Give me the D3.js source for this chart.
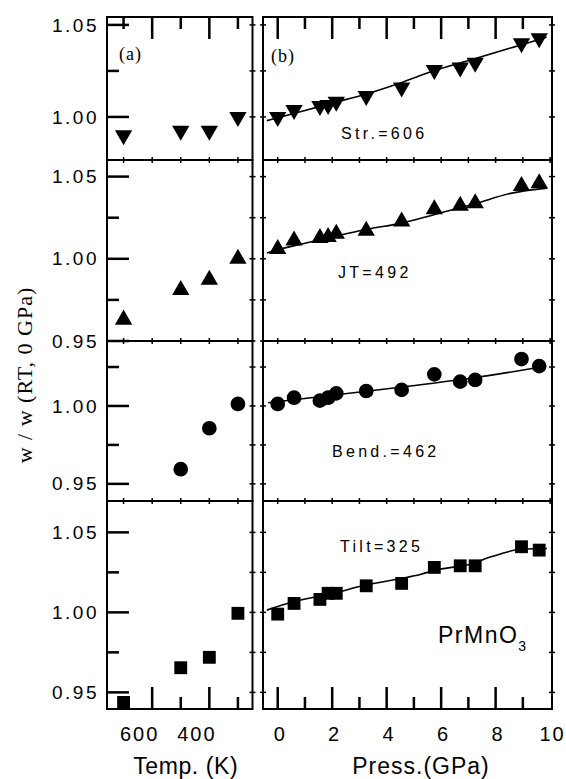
<!DOCTYPE html>
<html>
<head>
<meta charset="utf-8">
<script src="https://cdn.jsdelivr.net/npm/d3@7"></script>
<style>
    body { margin: 0; background: #fff; color: #000; }
    svg text { fill: #000; }
    .sans { font-family: "Liberation Sans", Arial, sans-serif; }
    .serif { font-family: "Liberation Serif", "Times New Roman", serif; }
</style>
</head>
<body>
<div id="chart"></div>
<script>
// temperature data (left column)
var temps = [700, 500, 400, 300];
var bendTemps = [500, 400, 300];
var strT = [0.990, 0.9925, 0.9925, 1.000];
var jtT = [0.963, 0.981, 0.9872, 1.000];
var bendT = [0.9594, 0.9857, 1.0013];
var tiltT = [0.9437, 0.9654, 0.9719, 0.9994];

// pressure data (right column)
var pressures = [0, 0.6, 1.55, 1.85, 2.15, 3.25, 4.55, 5.75, 6.7, 7.25, 8.95, 9.6];
var strP = [1.000, 1.0038, 1.006, 1.0065, 1.0083, 1.0114, 1.016, 1.0255, 1.0268, 1.0295, 1.040, 1.0427];
var jtP = [1.0059, 1.0111, 1.0126, 1.0132, 1.0152, 1.017, 1.0227, 1.0302, 1.0322, 1.0338, 1.0443, 1.046];
var bendP = [1.0013, 1.0053, 1.0034, 1.0053, 1.0081, 1.0096, 1.0103, 1.0203, 1.0156, 1.0167, 1.0301, 1.0256];
var tiltP = [0.9989, 1.0056, 1.0081, 1.0119, 1.0119, 1.0166, 1.0181, 1.0281, 1.0291, 1.0291, 1.041, 1.0389];

// fitted curves
var strFitP = [-0.4, 1, 2, 3.25, 4.5, 5.75, 7.2, 8.9, 9.87];
var strFit = [0.998, 1.0035, 1.0075, 1.0125, 1.0185, 1.0252, 1.0315, 1.039, 1.0433];
var jtFitP = [-0.4, 0, 1.0, 2.2, 3.27, 4.55, 5.77, 7.24, 8.55, 9.9];
var jtFit = [1.0035, 1.0055, 1.0095, 1.014, 1.018, 1.0217, 1.027, 1.0335, 1.0398, 1.043];
var bendFitP = [-0.35, 4.5, 7.2, 9.75];
var bendFit = [1.0021, 1.012, 1.0181, 1.0252];
var tiltFitP = [-0.4, 0.57, 2.04, 3.24, 3.88, 4.52, 5.23, 5.78, 6.7, 7.21, 7.55, 8.16, 8.9, 9.63, 9.88];
var tiltFit = [1.0014, 1.0066, 1.0119, 1.0171, 1.0191, 1.0212, 1.0237, 1.0264, 1.0289, 1.0306, 1.0331, 1.0364, 1.0394, 1.0398, 1.0399];

// axis ticks
var tempMajor = [600, 400];
var tempMinor = [700, 500, 300];
var pressMajor = [0, 2, 4, 6, 8, 10];
var pressMinor = [1, 3, 5, 7, 9];
var yMajor = [0.95, 1.00, 1.05];
var yMinor = [0.975, 1.025];

var labels = ["Str.=606", "JT=492", "Bend.=462", "Tilt=325"];

var W = 566, H = 779;
var colL = [107, 252.5], colR = [263, 552];
var rows = [17, 160, 341, 501, 709];

var panels = [
    {dom: [0.9766, 1.0543], sym: "down", tx: temps, ty: strT, py: strP, fp: strFitP, fy: strFit, label: labels[0], lx: 341, ly: 139},
    {dom: [0.95, 1.0601], sym: "up", tx: temps, ty: jtT, py: jtP, fp: jtFitP, fy: jtFit, label: labels[1], lx: 338, ly: 278},
    {dom: [0.939, 1.0417], sym: "circle", tx: bendTemps, ty: bendT, py: bendP, fp: bendFitP, fy: bendFit, label: labels[2], lx: 332, ly: 457},
    {dom: [0.9396, 1.0696], sym: "square", tx: temps, ty: tiltT, py: tiltP, fp: tiltFitP, fy: tiltFit, label: labels[3], lx: 340, ly: 552}
];

var xT = d3.scaleLinear().domain([758, 249]).range(colL);
var xP = d3.scaleLinear().domain([-0.54, 10.07]).range(colR);

var svg = d3.select("#chart").append("svg")
    .attr("width", W)
    .attr("height", H);

function marker(type) {
    if (type == "circle") return d3.symbol().type(d3.symbolCircle).size(170)();
    if (type == "square") return d3.symbol().type(d3.symbolSquare).size(165)();
    return d3.symbol().type(d3.symbolTriangle).size(130)();
}

// vertical tick marks at x = scale(v), between y0 and y1
function ticksX(scale, vals, y0, y1, w) {
    svg.selectAll(null)
        .data(vals)
        .enter().append("rect")
        .attr("x", function(v) { return scale(v) - w / 2; })
        .attr("y", y0)
        .attr("width", w)
        .attr("height", y1 - y0)
        .attr("fill", "#000");
}

// horizontal tick marks at y = scale(v), between x0 and x1
function ticksY(scale, vals, x0, x1, w) {
    svg.selectAll(null)
        .data(vals)
        .enter().append("rect")
        .attr("x", x0)
        .attr("y", function(v) { return scale(v) - w / 2; })
        .attr("width", x1 - x0)
        .attr("height", w)
        .attr("fill", "#000");
}

panels.forEach(function(p, i) {
    var top = rows[i], bot = rows[i + 1];
    var y = d3.scaleLinear().domain(p.dom).range([bot, top]);
    var inMaj = yMajor.filter(function(v) { return v >= p.dom[0] - 1e-6 && v <= p.dom[1]; });
    var inMin = yMinor.filter(function(v) { return v >= p.dom[0] && v <= p.dom[1]; });

    // frames
    [colL, colR].forEach(function(c) {
        svg.append("rect")
            .attr("x", c[0]).attr("y", top)
            .attr("width", c[1] - c[0]).attr("height", bot - top)
            .attr("fill", "none").attr("stroke", "#000").attr("stroke-width", 2);
    });

    // left y axis labels
    var gy = svg.append("g")
        .attr("class", "sans")
        .attr("transform", "translate(" + colL[0] + ",0)")
        .call(d3.axisLeft(y).tickValues(inMaj).tickSize(0).tickPadding(8).tickFormat(d3.format(".2f")));
    gy.select(".domain").remove();
    gy.selectAll("line").remove();
    gy.selectAll("text").style("font-size", "19px").style("letter-spacing", "2.5px");

    // long inward ticks on the left, tiny ones elsewhere
    ticksY(y, inMaj, colL[0], colL[0] + 22, 2.5);
    ticksY(y, inMin, colL[0], colL[0] + 12, 2.5);
    var all = inMaj.concat(inMin);
    ticksY(y, all, colL[1] - 3, colL[1] + 3, 1.5);
    ticksY(y, all, colR[0] - 3, colR[0] + 3, 1.5);
    ticksY(y, all, colR[1] - 3, colR[1] + 3, 1.5);

    // fit line
    var fit = p.fp.map(function(v, k) { return [v, p.fy[k]]; });
    svg.append("path")
        .datum(fit)
        .attr("fill", "none")
        .attr("stroke", "#000")
        .attr("stroke-width", 1.6)
        .attr("d", d3.line()
            .x(function(d) { return xP(d[0]); })
            .y(function(d) { return y(d[1]); })
            .curve(d3.curveMonotoneX));

    var rot = p.sym == "down" ? " rotate(180)" : "";

    svg.selectAll(".mt" + i)
        .data(p.tx.map(function(t, k) { return [t, p.ty[k]]; }))
        .enter().append("path")
        .attr("class", "mt" + i)
        .attr("d", marker(p.sym))
        .attr("transform", function(d) { return "translate(" + xT(d[0]) + "," + y(d[1]) + ")" + rot; })
        .attr("fill", "#000");

    svg.selectAll(".mp" + i)
        .data(pressures.map(function(v, k) { return [v, p.py[k]]; }))
        .enter().append("path")
        .attr("class", "mp" + i)
        .attr("d", marker(p.sym))
        .attr("transform", function(d) { return "translate(" + xP(d[0]) + "," + y(d[1]) + ")" + rot; })
        .attr("fill", "#000");

    svg.append("text")
        .attr("class", "sans")
        .attr("x", p.lx)
        .attr("y", p.ly)
        .style("font-size", "16px")
        .style("letter-spacing", "3.3px")
        .text(p.label);

    // small ticks across the boundary between panels
    if (i > 0) {
        ticksX(xT, tempMajor.concat(tempMinor), top - 3, top + 3, 1.5);
        ticksX(xP, pressMajor.concat(pressMinor), top - 3, top + 3, 1.5);
    }
});

// top ticks
ticksX(xT, tempMajor, rows[0], rows[0] + 22, 2.5);
ticksX(xT, tempMinor, rows[0], rows[0] + 12, 2.5);
ticksX(xP, pressMajor.slice(0, 5), rows[0], rows[0] + 22, 2.5);
ticksX(xP, pressMinor, rows[0], rows[0] + 12, 2.5);

// bottom ticks and labels
var yb = rows[4];
ticksX(xT, tempMajor, yb - 22, yb, 2.5);
ticksX(xT, tempMinor, yb - 12, yb, 2.5);
ticksX(xP, pressMajor.slice(0, 5), yb - 22, yb, 2.5);
ticksX(xP, pressMinor, yb - 12, yb, 2.5);

function bottomLabels(scale, major, dx) {
    var g = svg.append("g")
        .attr("class", "sans")
        .attr("transform", "translate(0," + yb + ")")
        .call(d3.axisBottom(scale).tickValues(major).tickSize(0).tickPadding(18));
    g.select(".domain").remove();
    g.selectAll("line").remove();
    g.selectAll("text").attr("dx", dx).style("font-size", "20px").style("letter-spacing", "2px");
}
bottomLabels(xT, tempMajor, -13);
bottomLabels(xP, pressMajor, 2);

// titles
svg.append("text")
    .attr("class", "sans")
    .attr("x", (colL[0] + colL[1]) / 2 + 6)
    .attr("y", 774)
    .attr("text-anchor", "middle")
    .style("font-size", "23px")
    .style("letter-spacing", "0.6px")
    .text("Temp. (K)");

svg.append("text")
    .attr("class", "sans")
    .attr("x", 421)
    .attr("y", 774)
    .attr("text-anchor", "middle")
    .style("font-size", "23px")
    .style("letter-spacing", "1px")
    .text("Press.(GPa)");

svg.append("text")
    .attr("class", "serif")
    .attr("text-anchor", "middle")
    .attr("transform", "translate(32,375)rotate(-90)")
    .style("font-size", "22px")
    .style("letter-spacing", "1px")
    .text("w / w (RT, 0 GPa)");

svg.append("text")
    .attr("class", "serif")
    .attr("x", 119).attr("y", 60)
    .style("font-size", "18px")
    .style("letter-spacing", "1px")
    .text("(a)");

svg.append("text")
    .attr("class", "serif")
    .attr("x", 271).attr("y", 62)
    .style("font-size", "18px")
    .style("letter-spacing", "1px")
    .text("(b)");

var comp = svg.append("text")
    .attr("class", "sans")
    .attr("x", 438).attr("y", 643)
    .style("font-size", "23px")
    .style("letter-spacing", "1.5px")
    .text("PrMnO");
comp.append("tspan")
    .attr("dy", 8)
    .style("font-size", "14px")
    .text("3");
</script>
</body>
</html>
